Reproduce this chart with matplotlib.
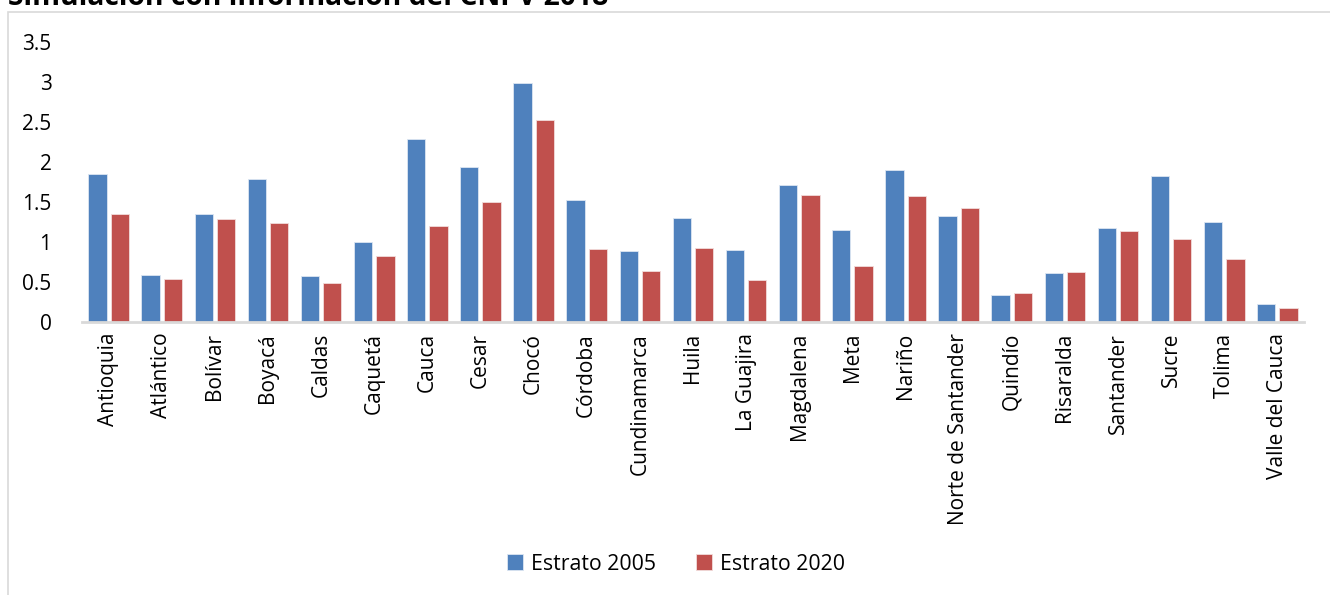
import matplotlib
matplotlib.use("Agg")
import matplotlib.pyplot as plt
import numpy as np
from matplotlib.patches import Rectangle

departamentos = ["Antioquia", "Atlántico", "Bolívar", "Boyacá", "Caldas", "Caquetá",
                 "Cauca", "Cesar", "Chocó", "Córdoba", "Cundinamarca", "Huila",
                 "La Guajira", "Magdalena", "Meta", "Nariño", "Norte de Santander",
                 "Quindío", "Risaralda", "Santander", "Sucre", "Tolima", "Valle del Cauca"]
estrato_2005 = [1.85, 0.59, 1.35, 1.79, 0.57, 1.00, 2.29, 1.94, 2.99, 1.52, 0.89, 1.30,
                0.90, 1.71, 1.15, 1.90, 1.32, 0.33, 0.61, 1.17, 1.82, 1.25, 0.22]
estrato_2020 = [1.35, 0.53, 1.29, 1.23, 0.48, 0.82, 1.20, 1.50, 2.52, 0.91, 0.63, 0.92,
                0.52, 1.59, 0.70, 1.57, 1.42, 0.36, 0.62, 1.13, 1.03, 0.78, 0.17]
yticks = [0, 0.5, 1, 1.5, 2, 2.5, 3, 3.5]
ytick_labels = ["0", "0.5", "1", "1.5", "2", "2.5", "3", "3.5"]

plt.rcParams['font.family'] = ['Open Sans', 'DejaVu Sans']

W, H = 1330, 595
fig = plt.figure(figsize=(W / 100, H / 100), dpi=100)

# outer chart frame
fig.patches.append(Rectangle((8 / W, -0.05), 1.2, 1 - 12 / H + 0.05, transform=fig.transFigure,
                             fill=False, edgecolor="#D9D9D9", linewidth=1.2))
fig.text(8 / W, 1 - 5 / H, "Simulación con información del CNPV 2018", fontsize=20.3,
         fontweight="bold", ha="left", va="baseline", color="#000000")

ax = fig.add_axes([82 / W, 1 - 321.7 / H, (1304 - 82) / W, (321.7 - 41.7) / H])
x = np.arange(len(departamentos))
bw = 0.345
off = 0.21
b1 = ax.bar(x - off, estrato_2005, bw, color="#4F81BD", edgecolor="#DCE6F2", linewidth=0.6,
            label="Estrato 2005")
b2 = ax.bar(x + off, estrato_2020, bw, color="#C0504D", edgecolor="#F2DCDB", linewidth=0.6,
            label="Estrato 2020")

ax.set_xlim(-0.5, len(departamentos) - 0.5)
ax.set_ylim(0, 3.5)
ax.set_yticks(yticks)
ax.set_yticklabels(ytick_labels, fontsize=15)
ax.set_xticks(x)
ax.set_xticklabels(departamentos, rotation=90, fontsize=15)
ax.tick_params(axis="both", length=0, colors="#000000")
ax.tick_params(axis="y", pad=22)
ax.tick_params(axis="x", pad=8)
for s in ["top", "right", "left"]:
    ax.spines[s].set_visible(False)
ax.spines["bottom"].set_color("#D9D9D9")
ax.spines["bottom"].set_linewidth(2)

fig.legend(handles=[b1, b2], labels=["Estrato 2005", "Estrato 2020"], loc="center",
           bbox_to_anchor=(676 / W, 1 - 564 / H), ncol=2, frameon=False, fontsize=15.3,
           handlelength=0.75, handleheight=0.75, handletextpad=0.35, columnspacing=1.9)

fig.savefig("out.png", dpi=100)
